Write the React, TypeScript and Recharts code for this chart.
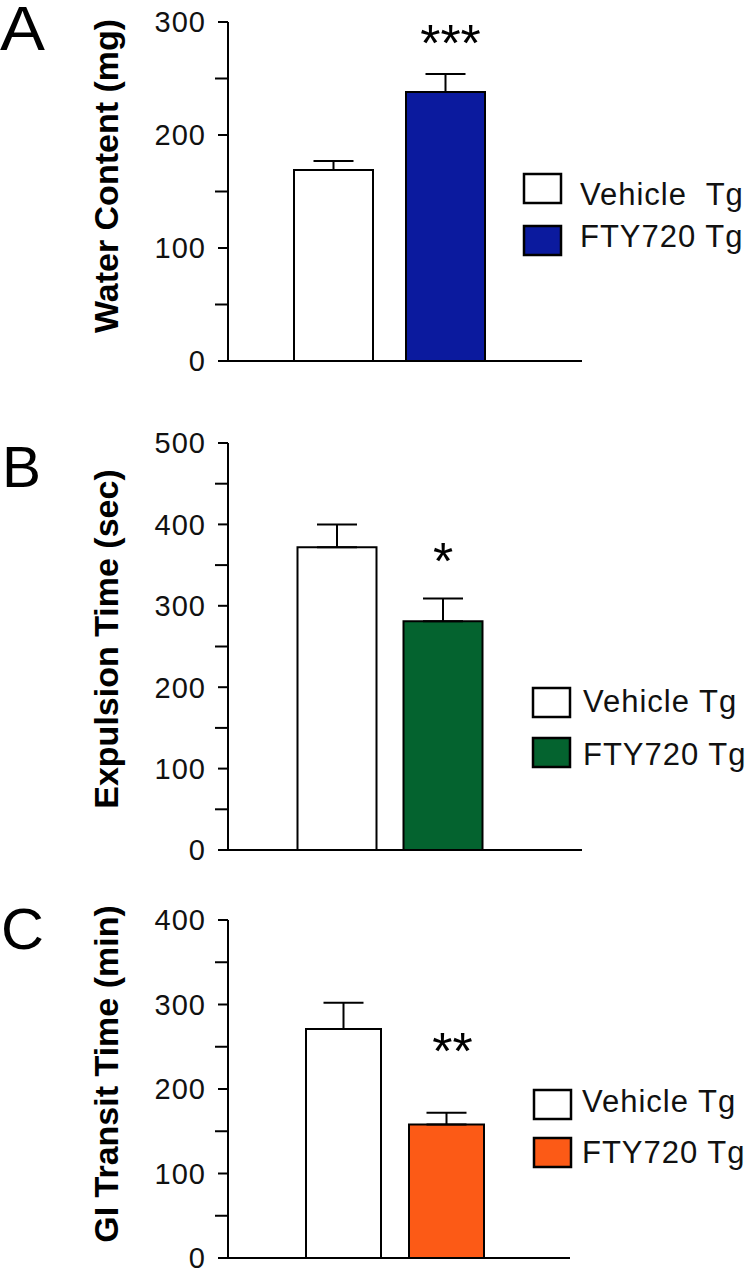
import React from 'react';
import { BarChart, Bar, XAxis, YAxis, Cell, ErrorBar, LabelList, Legend, Label } from 'recharts';

// ---------- data ----------
const groups = ['Vehicle Tg', 'FTY720 Tg'];

const waterMeans = [169, 238];
const waterSem = [8, 16];
const waterSig = ['', '***'];
const waterTicks = [0, 50, 100, 150, 200, 250, 300];
const waterLegend = ['Vehicle  Tg', 'FTY720 Tg'];

const expulsionMeans = [372, 281];
const expulsionSem = [28, 28];
const expulsionSig = ['', '*'];
const expulsionTicks = [0, 50, 100, 150, 200, 250, 300, 350, 400, 450, 500];
const expulsionLegend = ['Vehicle Tg', 'FTY720 Tg'];

const transitMeans = [271, 158];
const transitSem = [31, 14];
const transitSig = ['', '**'];
const transitTicks = [0, 50, 100, 150, 200, 250, 300, 350, 400];
const transitLegend = ['Vehicle Tg', 'FTY720 Tg'];

const FONT = '"Liberation Sans", Arial, sans-serif';
const AXIS_X = 228;

type Cfg = {
  letter: string;
  means: number[];
  sem: number[];
  sig: string[];
  ticks: number[];
  legend: string[];
  label: string;
  color: string;
  top: number;
  height: number;
  mTop: number;
  mBottom: number;
  mRight: number;
  padL: number;
  padR: number;
  barSize: number;
  labelY: number;
  lg: { left: number; top: number; box2: number; textDx: number; b1: number; b2: number };
  starOff: number;
  starDx: number;
  letterY: number;
  letterX: number;
  letterLen: number;
  letterSize: number;
};

const panels: Cfg[] = [
  {
    letter: 'A', means: waterMeans, sem: waterSem, sig: waterSig, ticks: waterTicks, legend: waterLegend,
    label: 'Water Content (mg)', color: '#0b1a9e',
    top: 0, height: 400, mTop: 22, mBottom: 38, mRight: 168, padL: 49, padR: 81, barSize: 79,
    labelY: 176, lg: { left: 523, top: 173, box2: 52, textDx: 57, b1: 32, b2: 74 },
    starOff: 31, starDx: 5, letterY: 50, letterX: 0, letterLen: 45, letterSize: 63,
  },
  {
    letter: 'B', means: expulsionMeans, sem: expulsionSem, sig: expulsionSig, ticks: expulsionTicks, legend: expulsionLegend,
    label: 'Expulsion Time (sec)', color: '#04632f',
    top: 420, height: 460, mTop: 23, mBottom: 29, mRight: 168, padL: 55.5, padR: 86.5, barSize: 79,
    labelY: 219, lg: { left: 532, top: 267, box2: 50, textDx: 51, b1: 25, b2: 78 },
    starOff: 42, starDx: 0, letterY: 67, letterX: 2, letterLen: 39, letterSize: 57,
  },
  {
    letter: 'C', means: transitMeans, sem: transitSem, sig: transitSig, ticks: transitTicks, legend: transitLegend,
    label: 'GI Transit Time (min)', color: '#fc5a16',
    top: 890, height: 381, mTop: 30, mBottom: 12, mRight: 180, padL: 64, padR: 72, barSize: 75,
    labelY: 184, lg: { left: 533, top: 199, box2: 48, textDx: 49, b1: 23, b2: 74 },
    starOff: 55, starDx: 6, letterY: 59, letterX: 1, letterLen: 43, letterSize: 57,
  },
];

const renderTick = (props: any) => {
  const { y, payload } = props;
  const v = payload.value as number;
  const major = v % 100 === 0;
  return (
    <g>
      <line x1={AXIS_X - (major ? 10 : 13)} x2={AXIS_X} y1={y} y2={y} stroke="#000" strokeWidth={2} />
      {major && (
        <text x={AXIS_X - 22} y={y} dy="0.36em" textAnchor="end" fontFamily={FONT} fontSize={29}
          letterSpacing={1} fill="#111">
          {v}
        </text>
      )}
    </g>
  );
};

function Panel({ cfg }: { cfg: Cfg }) {
  const data = groups.map((g, i) => ({
    group: g,
    mean: cfg.means[i],
    err: [0, cfg.sem[i]],
    sig: cfg.sig[i],
  }));
  const colors = ['#ffffff', cfg.color];
  return (
    <div style={{ position: 'absolute', left: 0, top: cfg.top, width: 750, height: cfg.height }}>
      <BarChart width={750} height={cfg.height} data={data} barSize={cfg.barSize}
        margin={{ top: cfg.mTop, right: cfg.mRight, bottom: cfg.mBottom, left: 0 }}>
        <XAxis dataKey="group" tick={false} tickLine={false} height={1}
          padding={{ left: cfg.padL, right: cfg.padR }} axisLine={{ stroke: '#000', strokeWidth: 2 }} />
        <YAxis width={AXIS_X} domain={[0, cfg.ticks[cfg.ticks.length - 1]]} ticks={cfg.ticks} interval={0}
          tick={renderTick} tickLine={false} axisLine={{ stroke: '#000', strokeWidth: 2 }}>
          <Label
            content={() => (
              <text x={118} y={cfg.labelY} transform={`rotate(-90 118 ${cfg.labelY})`} textAnchor="middle"
                fontFamily={FONT} fontWeight="bold" fontSize={34} fill="#000">
                {cfg.label}
              </text>
            )}
          />
        </YAxis>
        <Legend
          align="center"
          verticalAlign="middle"
          layout="horizontal"
          wrapperStyle={{ position: 'absolute', left: cfg.lg.left - 2, top: cfg.lg.top - 2, width: 230, height: 110 }}
          content={() => (
            <svg width={230} height={110} style={{ overflow: 'visible', display: 'block' }}>
              {cfg.legend.map((name, i) => (
                <g key={name}>
                  <rect x={3} y={3 + (i === 0 ? 0 : cfg.lg.box2)} width={37} height={29}
                    fill={colors[i]} stroke="#000" strokeWidth={2.5} />
                  <text x={2 + cfg.lg.textDx} y={2 + (i === 0 ? cfg.lg.b1 : cfg.lg.b2)} fontFamily={FONT}
                    fontSize={31} letterSpacing={1} fill="#111" style={{ whiteSpace: 'pre' }}>
                    {name}
                  </text>
                </g>
              ))}
            </svg>
          )}
        />
        <Bar dataKey="mean" stroke="#000" strokeWidth={2} isAnimationActive={false}>
          {data.map((d, i) => (
            <Cell key={d.group} fill={colors[i]} />
          ))}
          <ErrorBar dataKey="err" width={20} stroke="#000" strokeWidth={2} direction="y" isAnimationActive={false} />
          <LabelList
            dataKey="sig"
            content={(p: any) => {
              if (!p.value) return null;
              return (
                <text x={p.x + p.width / 2 + cfg.starDx} y={p.y - cfg.starOff} textAnchor="middle"
                  fontFamily={FONT} fontSize={52} fill="#000">
                  {p.value}
                </text>
              );
            }}
          />
        </Bar>
      </BarChart>
    </div>
  );
}

export default function App() {
  return (
    <div style={{ position: 'absolute', left: 0, top: 0, width: 750, height: 1271, background: '#fff', overflow: 'hidden' }}>
      {panels.map((cfg) => (
        <Panel key={cfg.letter} cfg={cfg} />
      ))}
      <svg width={750} height={1271} style={{ position: 'absolute', left: 0, top: 0, pointerEvents: 'none' }}>
        {panels.map((cfg) => (
          <text key={cfg.letter} x={cfg.letterX} y={cfg.top + cfg.letterY} fontFamily={FONT} fontSize={cfg.letterSize}
            textLength={cfg.letterLen} lengthAdjust="spacingAndGlyphs" fill="#000">
            {cfg.letter}
          </text>
        ))}
      </svg>
    </div>
  );
}
